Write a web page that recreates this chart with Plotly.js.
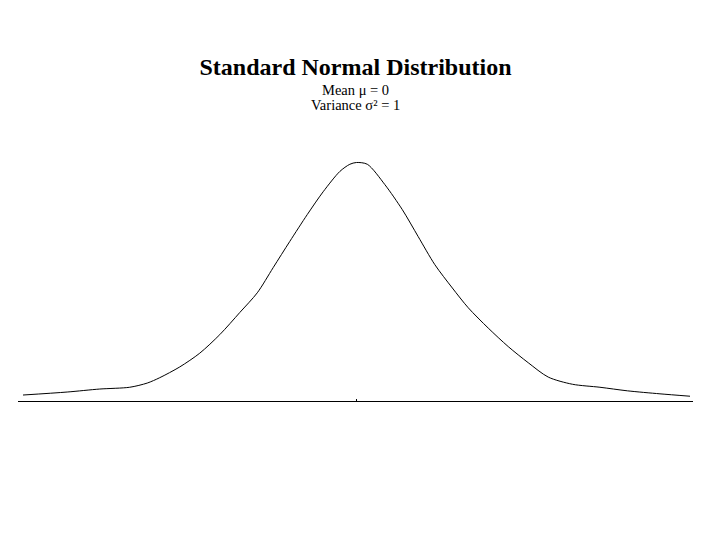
<!DOCTYPE html>
<html>
<head>
<meta charset="utf-8">
<script src="https://cdn.plot.ly/plotly-3.0.1.min.js"></script>
<style>html,body{margin:0;padding:0;background:#fff;}#chart{width:720px;height:540px;}</style>
</head>
<body>
<div id="chart"></div>
<script>
// Values
const xValues = [-4.00, -3.47, -3.08, -2.72, -2.51, -2.36, -2.12, -1.88, -1.64, -1.40, -1.19, -1.00, -0.80, -0.59, -0.40, -0.20, -0.08, 0.00, 0.13, 0.34, 0.55, 0.74, 0.94, 1.15, 1.34, 1.58, 1.82, 2.06, 2.30, 2.59, 2.92, 3.25, 3.64, 4.00];
const density = [0.010, 0.015, 0.020, 0.023, 0.030, 0.039, 0.057, 0.080, 0.111, 0.148, 0.181, 0.223, 0.267, 0.312, 0.350, 0.384, 0.396, 0.399, 0.396, 0.362, 0.320, 0.275, 0.228, 0.189, 0.156, 0.122, 0.091, 0.064, 0.040, 0.028, 0.023, 0.017, 0.012, 0.008];
const tickValues = [0];
const tickLabels = [''];
const titleText = 'Standard Normal Distribution';
const subtitleLines = ['Mean \u03bc = 0', 'Variance \u03c3\u00b2 = 1'];

const serif = 'Liberation Serif, Times New Roman, serif';

const trace = {
  x: xValues,
  y: density,
  type: 'scatter',
  mode: 'lines',
  line: {color: '#000000', width: 1, shape: 'spline', smoothing: 0.8},
  hoverinfo: 'skip',
  showlegend: false
};

const layout = {
  width: 720,
  height: 540,
  paper_bgcolor: '#ffffff',
  plot_bgcolor: '#ffffff',
  margin: {l: 18, r: 27, t: 132, b: 139, pad: 0},
  title: {
    text: '<b>' + titleText + '</b>',
    font: {family: serif, size: 24, color: '#000000'},
    xref: 'paper', x: 0.5, xanchor: 'center',
    yref: 'container', y: 1 - 67 / 540, yanchor: 'middle'
  },
  xaxis: {
    range: [-4.06, 4.036],
    showline: true, linecolor: '#000000', linewidth: 1,
    showgrid: false, zeroline: false,
    tickvals: tickValues, ticktext: tickLabels,
    ticks: 'inside', ticklen: 2, tickcolor: '#000000', tickwidth: 1,
    fixedrange: true
  },
  yaxis: {
    range: [0, 0.45],
    visible: false, showgrid: false, zeroline: false,
    fixedrange: true
  },
  annotations: [
    {text: subtitleLines[0], xref: 'paper', yref: 'paper', x: 0.5, y: (401 - 90) / 269, xanchor: 'center', yanchor: 'middle', showarrow: false, font: {family: serif, size: 14.5, color: '#000000'}},
    {text: subtitleLines[1], xref: 'paper', yref: 'paper', x: 0.5, y: (401 - 105.5) / 269, xanchor: 'center', yanchor: 'middle', showarrow: false, font: {family: serif, size: 14.5, color: '#000000'}}
  ]
};

Plotly.newPlot('chart', [trace], layout, {displayModeBar: false, staticPlot: true});
</script>
</body>
</html>
